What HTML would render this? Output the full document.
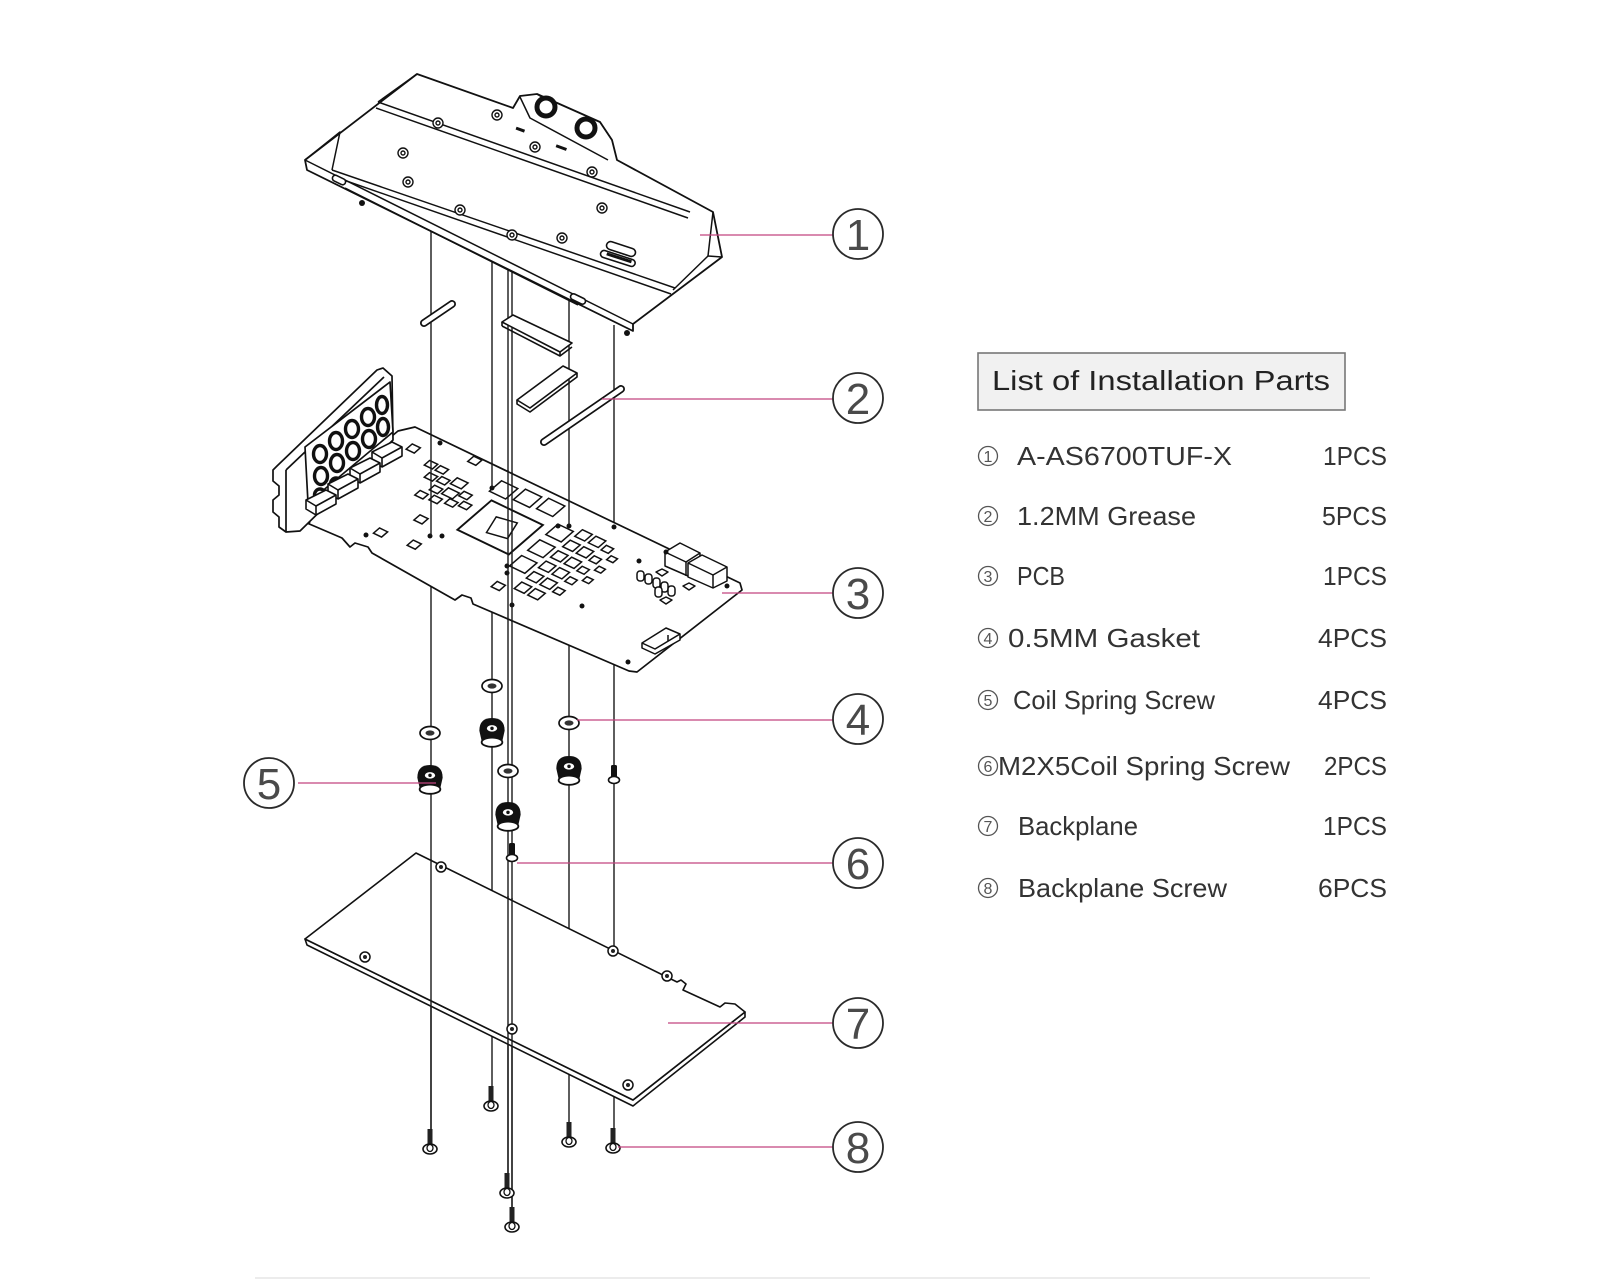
<!DOCTYPE html>
<html><head><meta charset="utf-8">
<style>
html,body{margin:0;padding:0;background:#fff;}
svg{display:block;}
.pcb *{vector-effect:non-scaling-stroke;}
</style></head>
<body>
<svg width="1600" height="1280" viewBox="0 0 1600 1280" xmlns="http://www.w3.org/2000/svg" font-family="'Liberation Sans', 'DejaVu Sans', sans-serif">
<rect width="1600" height="1280" fill="#fff"/>

<!-- vertical assembly lines -->
<g stroke="#1a1a1a" stroke-width="1.4" fill="none">
  <line x1="431" y1="230" x2="431" y2="1135"/>
  <line x1="492" y1="255" x2="492" y2="1090"/>
  <line x1="508" y1="265" x2="508" y2="1178"/>
  <line x1="512" y1="268" x2="512" y2="1212"/>
  <line x1="569" y1="290" x2="569" y2="1125"/>
  <line x1="614" y1="325" x2="614" y2="1132"/>
</g>

<!-- BACKPLATE (7) -->
<g stroke="#111" stroke-width="1.6" stroke-linejoin="round" fill="#fff">
  <polygon points="305,939 307,945 633,1106 745,1017 745,1012 633,1100"/>
  <polygon points="416,853 677,982 681,980 686,984 683,990 720,1007 725,1003 735,1004 745,1012 633,1100 305,939"/>
</g>
<g stroke="#1a1a1a" stroke-width="1.4">
  <line x1="431" y1="859" x2="431" y2="1135"/>
  <line x1="508" y1="896" x2="508" y2="1178"/>
  <line x1="512" y1="898" x2="512" y2="1212"/>
</g>
<g fill="#fff" stroke="#111" stroke-width="1.5">
  <circle cx="441" cy="867" r="5"/><circle cx="365" cy="957" r="5"/><circle cx="512" cy="1029" r="5"/>
  <circle cx="613" cy="951" r="5"/><circle cx="667" cy="976" r="5"/><circle cx="628" cy="1085" r="5"/>
</g>
<g fill="#222">
  <circle cx="441" cy="867" r="2"/><circle cx="365" cy="957" r="2"/><circle cx="512" cy="1029" r="2"/>
  <circle cx="613" cy="951" r="2"/><circle cx="667" cy="976" r="2"/><circle cx="628" cy="1085" r="2"/>
</g>

<!-- Backplane screws (8) -->
<g>
  <g transform="translate(430,1149)"><rect x="-2.5" y="-20" width="5" height="16" fill="#222"/><ellipse cx="0" cy="0" rx="7" ry="5" fill="#fff" stroke="#111" stroke-width="1.6"/><ellipse cx="0" cy="-1" rx="3" ry="3.5" fill="none" stroke="#111" stroke-width="1.3"/></g>
  <g transform="translate(491,1106)"><rect x="-2.5" y="-20" width="5" height="16" fill="#222"/><ellipse cx="0" cy="0" rx="7" ry="5" fill="#fff" stroke="#111" stroke-width="1.6"/><ellipse cx="0" cy="-1" rx="3" ry="3.5" fill="none" stroke="#111" stroke-width="1.3"/></g>
  <g transform="translate(569,1142)"><rect x="-2.5" y="-20" width="5" height="16" fill="#222"/><ellipse cx="0" cy="0" rx="7" ry="5" fill="#fff" stroke="#111" stroke-width="1.6"/><ellipse cx="0" cy="-1" rx="3" ry="3.5" fill="none" stroke="#111" stroke-width="1.3"/></g>
  <g transform="translate(613,1148)"><rect x="-2.5" y="-20" width="5" height="16" fill="#222"/><ellipse cx="0" cy="0" rx="7" ry="5" fill="#fff" stroke="#111" stroke-width="1.6"/><ellipse cx="0" cy="-1" rx="3" ry="3.5" fill="none" stroke="#111" stroke-width="1.3"/></g>
  <g transform="translate(507,1193)"><rect x="-2.5" y="-20" width="5" height="16" fill="#222"/><ellipse cx="0" cy="0" rx="7" ry="5" fill="#fff" stroke="#111" stroke-width="1.6"/><ellipse cx="0" cy="-1" rx="3" ry="3.5" fill="none" stroke="#111" stroke-width="1.3"/></g>
  <g transform="translate(512,1227)"><rect x="-2.5" y="-20" width="5" height="16" fill="#222"/><ellipse cx="0" cy="0" rx="7" ry="5" fill="#fff" stroke="#111" stroke-width="1.6"/><ellipse cx="0" cy="-1" rx="3" ry="3.5" fill="none" stroke="#111" stroke-width="1.3"/></g>
</g>

<!-- Washers (4) -->
<g fill="#fff" stroke="#111" stroke-width="1.7">
  <ellipse cx="430" cy="733" rx="10" ry="6.5"/><ellipse cx="492" cy="686" rx="10" ry="6.5"/>
  <ellipse cx="508" cy="771" rx="10" ry="6.5"/><ellipse cx="569" cy="723" rx="10" ry="6.5"/>
</g>
<g fill="#333">
  <ellipse cx="430" cy="733" rx="4.5" ry="2.6"/><ellipse cx="492" cy="686" rx="4.5" ry="2.6"/>
  <ellipse cx="508" cy="771" rx="4.5" ry="2.6"/><ellipse cx="569" cy="723" rx="4.5" ry="2.6"/>
</g>

<!-- Coil spring screws (5) -->
<g>
  <g transform="translate(430,780) scale(1.15)"><path d="M-11,-2 Q-11,-13 0,-13 Q11,-13 11,-2 L9,7 Q0,11 -9,7 Z" fill="#111"/><ellipse cx="0" cy="8" rx="9" ry="4" fill="#fff" stroke="#111" stroke-width="1.6"/><ellipse cx="0" cy="-4" rx="4.5" ry="2.8" fill="#fff"/><circle cx="0" cy="-4" r="1.5" fill="#111"/></g>
  <g transform="translate(492,733) scale(1.15)"><path d="M-11,-2 Q-11,-13 0,-13 Q11,-13 11,-2 L9,7 Q0,11 -9,7 Z" fill="#111"/><ellipse cx="0" cy="8" rx="9" ry="4" fill="#fff" stroke="#111" stroke-width="1.6"/><ellipse cx="0" cy="-4" rx="4.5" ry="2.8" fill="#fff"/><circle cx="0" cy="-4" r="1.5" fill="#111"/></g>
  <g transform="translate(508,817) scale(1.15)"><path d="M-11,-2 Q-11,-13 0,-13 Q11,-13 11,-2 L9,7 Q0,11 -9,7 Z" fill="#111"/><ellipse cx="0" cy="8" rx="9" ry="4" fill="#fff" stroke="#111" stroke-width="1.6"/><ellipse cx="0" cy="-4" rx="4.5" ry="2.8" fill="#fff"/><circle cx="0" cy="-4" r="1.5" fill="#111"/></g>
  <g transform="translate(569,771) scale(1.15)"><path d="M-11,-2 Q-11,-13 0,-13 Q11,-13 11,-2 L9,7 Q0,11 -9,7 Z" fill="#111"/><ellipse cx="0" cy="8" rx="9" ry="4" fill="#fff" stroke="#111" stroke-width="1.6"/><ellipse cx="0" cy="-4" rx="4.5" ry="2.8" fill="#fff"/><circle cx="0" cy="-4" r="1.5" fill="#111"/></g>
</g>

<!-- M2x5 screws (6) -->
<g>
  <g transform="translate(614,775)"><rect x="-3" y="-10" width="6" height="14" rx="1.5" fill="#111"/><ellipse cx="0" cy="5" rx="5.5" ry="3.5" fill="#fff" stroke="#111" stroke-width="1.6"/></g>
  <g transform="translate(512,853)"><rect x="-3" y="-10" width="6" height="14" rx="1.5" fill="#111"/><ellipse cx="0" cy="5" rx="5.5" ry="3.5" fill="#fff" stroke="#111" stroke-width="1.6"/></g>
</g>

<!-- PCB (3) -->
<g stroke="#111" stroke-width="1.7" stroke-linejoin="round" fill="#fff">
  <polygon points="398,431 415,427 740,583 742,590 637,672 629,671 473,604 471,598 462,595 455,600 372,553 368,547 355,543 350,547 342,538 300,520 302,512 310,504"/>
</g>
<g class="pcb" transform="matrix(0.902 0.433 -0.757 0.654 415 427)" fill="#fff" stroke="#111" stroke-width="1.5">
  <rect x="106" y="12" width="18" height="16"/>
  <rect x="130" y="9" width="18" height="16"/>
  <rect x="154" y="7" width="18" height="16"/>
  <rect x="115" y="36" width="57" height="45" stroke-width="1.9"/>
  <polygon points="132,50 152,46 158,66 138,70"/>
  <rect x="12" y="18" width="9" height="8"/>
  <rect x="66" y="1" width="9" height="8"/>
  <rect x="38" y="26" width="9" height="7"/>
  <rect x="50" y="26" width="9" height="7"/>
  <rect x="48" y="38" width="9" height="7"/>
  <rect x="60" y="36" width="9" height="7"/>
  <rect x="72" y="30" width="12" height="9"/>
  <rect x="62" y="48" width="9" height="7"/>
  <rect x="74" y="44" width="12" height="9"/>
  <rect x="88" y="40" width="9" height="7"/>
  <rect x="56" y="60" width="9" height="7"/>
  <rect x="70" y="58" width="9" height="7"/>
  <rect x="84" y="54" width="9" height="7"/>
  <rect x="96" y="50" width="9" height="7"/>
  <rect x="76" y="84" width="9" height="8"/>
  <rect x="58" y="116" width="9" height="8"/>
  <rect x="92" y="112" width="9" height="8"/>
  <rect x="186" y="113" width="9" height="8"/>
  <rect x="182" y="28" width="17" height="16"/>
  <rect x="182" y="52" width="17" height="16"/>
  <rect x="182" y="76" width="17" height="16"/>
  <rect x="204" y="22" width="11" height="10"/>
  <rect x="204" y="38" width="11" height="10"/>
  <rect x="204" y="54" width="11" height="10"/>
  <rect x="204" y="70" width="11" height="10"/>
  <rect x="204" y="86" width="11" height="10"/>
  <rect x="204" y="102" width="11" height="10"/>
  <rect x="219" y="22" width="11" height="10"/>
  <rect x="219" y="38" width="11" height="10"/>
  <rect x="219" y="54" width="11" height="10"/>
  <rect x="219" y="70" width="11" height="10"/>
  <rect x="219" y="86" width="11" height="10"/>
  <rect x="219" y="102" width="11" height="10"/>
  <rect x="234" y="26" width="8" height="7"/>
  <rect x="234" y="42" width="8" height="7"/>
  <rect x="234" y="58" width="8" height="7"/>
  <rect x="234" y="74" width="8" height="7"/>
  <rect x="234" y="90" width="8" height="7"/>
  <rect x="246" y="34" width="7" height="6"/>
  <rect x="246" y="50" width="7" height="6"/>
  <rect x="246" y="66" width="7" height="6"/>
</g>
<!-- power connectors etc -->
<g fill="#fff" stroke="#111" stroke-width="1.5" stroke-linejoin="round">
  <polygon points="665,552 680,543 700,553 700,570 688,576 665,566"/>
  <polyline points="665,552 686,562 700,553" fill="none"/>
  <line x1="686" y1="562" x2="686" y2="576"/>
  <polygon points="688,563 702,555 727,567 727,581 713,588 688,577"/>
  <polyline points="688,563 713,575 727,567" fill="none"/>
  <line x1="713" y1="575" x2="713" y2="588"/>
  <rect x="637" y="571" width="7" height="10" rx="3"/>
  <rect x="645" y="574" width="7" height="10" rx="3"/>
  <rect x="653" y="578" width="7" height="10" rx="3"/>
  <rect x="661" y="582" width="7" height="10" rx="3"/>
  <rect x="655" y="587" width="7" height="10" rx="3"/>
  <rect x="668" y="586" width="7" height="10" rx="3"/>
  <polygon points="656,572 662,569 668,572 662,576"/>
  <polygon points="660,600 666,597 672,600 666,604"/>
  <polygon points="683,586 689,583 695,586 689,590"/>
  <polygon points="642,643 666,628 680,634 680,640 655,654 642,648"/>
  <polyline points="642,643 655,649 680,634" fill="none"/>
  <line x1="668" y1="641" x2="668" y2="635"/>
</g>
<!-- PCB holes -->
<g fill="#111">
  <circle cx="440" cy="443" r="2.5"/><circle cx="430" cy="536" r="2.5"/><circle cx="442" cy="536" r="2.5"/>
  <circle cx="492" cy="488" r="2.5"/><circle cx="507" cy="566" r="2.5"/><circle cx="507" cy="573" r="2.5"/>
  <circle cx="512" cy="605" r="2.5"/><circle cx="558" cy="526" r="2.5"/><circle cx="569" cy="526" r="2.5"/>
  <circle cx="614" cy="527" r="2.5"/><circle cx="666" cy="552" r="2.5"/><circle cx="639" cy="561" r="2.5"/>
  <circle cx="582" cy="606" r="2.5"/><circle cx="727" cy="586" r="2.5"/><circle cx="628" cy="662" r="2.5"/>
  <circle cx="308" cy="522" r="2.5"/><circle cx="366" cy="535" r="2.5"/>
</g>
<g stroke="#1a1a1a" stroke-width="1.4">
  <line x1="431" y1="434" x2="431" y2="536"/>
  <line x1="492" y1="463" x2="492" y2="488"/>
  <line x1="508" y1="470" x2="508" y2="620"/>
  <line x1="512" y1="472" x2="512" y2="622"/>
  <line x1="569" y1="500" x2="569" y2="526"/>
</g>

<!-- bracket + IO -->
<g fill="#fff" stroke="#111" stroke-width="1.7" stroke-linejoin="round">
  <polygon points="277,466 377,370 383,368 392,376 393,440 300,531 286,532 279,527 279,517 273,512 273,500 279,495 279,486 273,481 273,470"/>
  <line x1="286" y1="470" x2="384" y2="377"/>
  <line x1="286" y1="470" x2="286" y2="532"/>
  <polygon points="305,447 390,382 393,432 308,503"/>
</g>
<g fill="#fff" stroke="#111" stroke-width="3.4">
  <ellipse cx="320" cy="454" rx="6.5" ry="8.5"/><ellipse cx="336" cy="441" rx="6.5" ry="8.5"/><ellipse cx="352" cy="429" rx="6.5" ry="8.5"/><ellipse cx="368" cy="417" rx="6.5" ry="8.5"/><ellipse cx="382" cy="405" rx="5.5" ry="8.5"/>
  <ellipse cx="321" cy="476" rx="6.5" ry="8.5"/><ellipse cx="337" cy="463" rx="6.5" ry="8.5"/><ellipse cx="353" cy="451" rx="6.5" ry="8.5"/><ellipse cx="369" cy="439" rx="6.5" ry="8.5"/><ellipse cx="383" cy="427" rx="5.5" ry="8.5"/>
  <ellipse cx="320" cy="495" rx="5.5" ry="6"/><ellipse cx="336" cy="484" rx="5.5" ry="6"/>
</g>
<g fill="#fff" stroke="#111" stroke-width="1.6" stroke-linejoin="round">
  <polygon points="372,452 392,442 402,447 402,456 382,467 372,461"/><polyline points="372,452 382,458 402,447" fill="none"/><line x1="382" y1="458" x2="382" y2="467"/>
  <polygon points="350,468 370,458 380,463 380,472 360,483 350,477"/><polyline points="350,468 360,474 380,463" fill="none"/><line x1="360" y1="474" x2="360" y2="483"/>
  <polygon points="328,484 348,474 358,479 358,488 338,499 328,493"/><polyline points="328,484 338,490 358,479" fill="none"/><line x1="338" y1="490" x2="338" y2="499"/>
  <polygon points="306,500 326,490 336,495 336,504 316,515 306,509"/><polyline points="306,500 316,506 336,495" fill="none"/><line x1="316" y1="506" x2="316" y2="515"/>
</g>

<!-- thermal pads (2) -->
<g stroke-linecap="round">
  <line x1="424" y1="323" x2="452" y2="304" stroke="#111" stroke-width="8"/>
  <line x1="424" y1="323" x2="452" y2="304" stroke="#fff" stroke-width="4.5"/>
  <line x1="544" y1="442" x2="621" y2="389" stroke="#111" stroke-width="8"/>
  <line x1="544" y1="442" x2="621" y2="389" stroke="#fff" stroke-width="4.5"/>
</g>
<g fill="#fff" stroke="#111" stroke-width="1.6" stroke-linejoin="round">
  <polygon points="502,322 513,315 572,343 560,352"/>
  <line x1="502" y1="322" x2="502" y2="326"/>
  <polyline points="502,326 560,356 572,347" fill="none"/>
  <line x1="560" y1="352" x2="560" y2="356"/>
  <polygon points="517,400 530,408 577,373 563,366"/>
  <polyline points="517,400 517,404 530,412 577,377 577,373" fill="none"/>
</g>

<!-- TOP WATER BLOCK (1) -->
<g fill="#fff" stroke="#111" stroke-width="1.8" stroke-linejoin="round">
  <polygon points="305,160 417,74 513,108 520,96 537,94 600,122 612,140 617,160 713,212 722,257 633,324 633,331 307,170"/>
</g>
<g fill="none" stroke="#111" stroke-width="1.5" stroke-linejoin="round">
  <line x1="305" y1="160" x2="633" y2="324"/>
  <line x1="378" y1="102" x2="690" y2="212"/>
  <line x1="376" y1="108" x2="688" y2="218"/>
  <line x1="417" y1="74" x2="378" y2="102"/>
  <polyline points="305,160 340,132 332,170"/>
  <line x1="332" y1="170" x2="675" y2="288"/>
  <line x1="335" y1="177" x2="671" y2="294"/>
  <polyline points="713,212 708,256 722,257"/>
  <line x1="708" y1="256" x2="673" y2="290"/>
  <line x1="345" y1="188" x2="578" y2="305"/>
  <polyline points="520,97 530,118 608,160"/>
  <line x1="600" y1="122" x2="612" y2="140"/>
  <line x1="537" y1="94" x2="545" y2="99"/>
</g>
<g fill="#fff" stroke="#111" stroke-width="5">
  <circle cx="546" cy="107" r="9"/>
  <circle cx="586" cy="128" r="9"/>
</g>
<g fill="#fff" stroke="#111" stroke-width="1.4">
  <circle cx="497" cy="115" r="5"/><circle cx="438" cy="123" r="5"/><circle cx="535" cy="147" r="5"/>
  <circle cx="592" cy="172" r="5"/><circle cx="403" cy="153" r="5"/><circle cx="408" cy="182" r="5"/>
  <circle cx="460" cy="210" r="5"/><circle cx="602" cy="208" r="5"/><circle cx="512" cy="235" r="5"/>
  <circle cx="562" cy="238" r="5"/>
  <circle cx="497" cy="115" r="2"/><circle cx="438" cy="123" r="2"/><circle cx="535" cy="147" r="2"/>
  <circle cx="592" cy="172" r="2"/><circle cx="403" cy="153" r="2"/><circle cx="408" cy="182" r="2"/>
  <circle cx="460" cy="210" r="2"/><circle cx="602" cy="208" r="2"/><circle cx="512" cy="235" r="2"/>
  <circle cx="562" cy="238" r="2"/>
</g>
<g fill="#fff" stroke="#111" stroke-width="1.6">
  <rect x="606" y="245" width="30" height="8" rx="4" transform="rotate(18 621 249)"/>
  <rect x="600" y="255" width="36" height="7" rx="3.5" transform="rotate(18 618 258)"/>
  <rect x="332" y="177" width="14" height="6" rx="3" transform="rotate(26 339 180)"/>
  <rect x="570" y="296" width="16" height="6" rx="3" transform="rotate(26 578 299)"/>
</g>
<g fill="#111">
  <rect x="606" y="256" width="26" height="3" transform="rotate(18 618 258)"/>
  <rect x="516" y="128" width="9" height="3" transform="rotate(20 520 129)"/>
  <rect x="556" y="146" width="11" height="3" transform="rotate(20 561 147)"/>
  <circle cx="362" cy="203" r="3"/>
  <circle cx="627" cy="333" r="3"/>
</g>

<!-- leader lines -->
<g stroke="#c2457f" stroke-width="1.3">
  <line x1="700" y1="235" x2="833" y2="235"/>
  <line x1="602" y1="399" x2="833" y2="399"/>
  <line x1="722" y1="593" x2="833" y2="593"/>
  <line x1="577" y1="720" x2="833" y2="720"/>
  <line x1="298" y1="783" x2="436" y2="783"/>
  <line x1="517" y1="863" x2="833" y2="863"/>
  <line x1="668" y1="1023" x2="833" y2="1023"/>
  <line x1="618" y1="1147" x2="833" y2="1147"/>
</g>

<!-- callout circles -->
<g fill="#fff" stroke="#2a2a2a" stroke-width="1.8">
  <circle cx="858" cy="234" r="25"/><circle cx="858" cy="398" r="25"/><circle cx="858" cy="593" r="25"/>
  <circle cx="858" cy="719" r="25"/><circle cx="269" cy="783" r="25"/><circle cx="858" cy="863" r="25"/>
  <circle cx="858" cy="1023" r="25"/><circle cx="858" cy="1147" r="25"/>
</g>
<g fill="#4a4a4a" font-size="44" text-anchor="middle">
  <text x="858" y="250">1</text>
  <text x="858" y="414">2</text>
  <text x="858" y="609">3</text>
  <text x="858" y="735">4</text>
  <text x="269" y="799">5</text>
  <text x="858" y="879">6</text>
  <text x="858" y="1039">7</text>
  <text x="858" y="1163">8</text>
</g>

<!-- PARTS LIST -->
<rect x="978" y="353" width="367" height="57" fill="#f1f1f1" stroke="#777" stroke-width="1.6"/>
<text x="992" y="390" font-size="28" fill="#222" textLength="338" lengthAdjust="spacingAndGlyphs">List of Installation Parts</text>

<g fill="none" stroke="#555" stroke-width="1.3">
  <circle cx="988" cy="456" r="9.5"/><circle cx="988" cy="516" r="9.5"/><circle cx="988" cy="576" r="9.5"/>
  <circle cx="988" cy="638" r="9.5"/><circle cx="988" cy="700" r="9.5"/><circle cx="988" cy="766" r="9.5"/>
  <circle cx="988" cy="826" r="9.5"/><circle cx="988" cy="888" r="9.5"/>
</g>
<g fill="#555" font-size="16" text-anchor="middle">
  <text x="988" y="462">1</text><text x="988" y="522">2</text><text x="988" y="582">3</text>
  <text x="988" y="644">4</text><text x="988" y="706">5</text><text x="988" y="772">6</text>
  <text x="988" y="832">7</text><text x="988" y="894">8</text>
</g>
<g fill="#333" font-size="26">
  <text x="1017" y="465" textLength="215" lengthAdjust="spacingAndGlyphs">A-AS6700TUF-X</text>
  <text x="1323" y="465" textLength="64" lengthAdjust="spacingAndGlyphs">1PCS</text>
  <text x="1017" y="525" textLength="179" lengthAdjust="spacingAndGlyphs">1.2MM  Grease</text>
  <text x="1322" y="525" textLength="65" lengthAdjust="spacingAndGlyphs">5PCS</text>
  <text x="1017" y="585" textLength="48" lengthAdjust="spacingAndGlyphs">PCB</text>
  <text x="1323" y="585" textLength="64" lengthAdjust="spacingAndGlyphs">1PCS</text>
  <text x="1008" y="647" textLength="192" lengthAdjust="spacingAndGlyphs">0.5MM  Gasket</text>
  <text x="1318" y="647" textLength="69" lengthAdjust="spacingAndGlyphs">4PCS</text>
  <text x="1013" y="709" textLength="202" lengthAdjust="spacingAndGlyphs">Coil  Spring  Screw</text>
  <text x="1318" y="709" textLength="69" lengthAdjust="spacingAndGlyphs">4PCS</text>
  <text x="998" y="775" textLength="292" lengthAdjust="spacingAndGlyphs">M2X5Coil Spring Screw</text>
  <text x="1324" y="775" textLength="63" lengthAdjust="spacingAndGlyphs">2PCS</text>
  <text x="1018" y="835" textLength="120" lengthAdjust="spacingAndGlyphs">Backplane</text>
  <text x="1323" y="835" textLength="64" lengthAdjust="spacingAndGlyphs">1PCS</text>
  <text x="1018" y="897" textLength="209" lengthAdjust="spacingAndGlyphs">Backplane  Screw</text>
  <text x="1318" y="897" textLength="69" lengthAdjust="spacingAndGlyphs">6PCS</text>
</g>

<line x1="255" y1="1278" x2="1370" y2="1278" stroke="#ececec" stroke-width="2"/>
</svg>
</body></html>
